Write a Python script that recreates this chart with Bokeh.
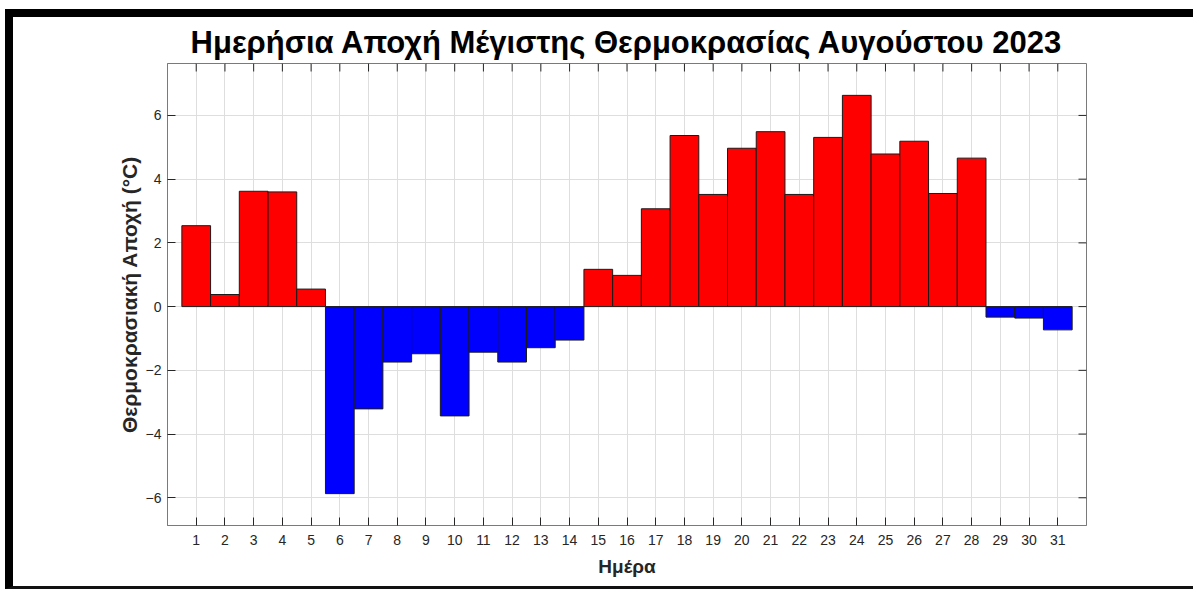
import math
from bokeh.plotting import figure
from bokeh.models import Range1d, FixedTicker, ColumnDataSource
from bokeh.embed import file_html
from bokeh.resources import INLINE

days = list(range(1, 32))
anomaly = [2.54, 0.38, 3.62, 3.60, 0.55, -5.87, -3.21, -1.74, -1.48, -3.43,
           -1.43, -1.74, -1.29, -1.05, 1.17, 0.98, 3.07, 5.37, 3.52, 4.97,
           5.49, 3.52, 5.31, 6.63, 4.79, 5.19, 3.55, 4.66, -0.33, -0.36, -0.73]
y_ticks = [-6, -4, -2, 0, 2, 4, 6]
title_text = "Ημερήσια Αποχή Μέγιστης Θερμοκρασίας Αυγούστου 2023"
xlabel = "Ημέρα"
ylabel = "Θερμοκρασιακή Αποχή (°C)"

colors = ["#ff0000" if v >= 0 else "#0000ff" for v in anomaly]
src = ColumnDataSource(dict(x=days, top=anomaly, color=colors))

xmin, xmax = 0, 32
ymin = min(anomaly) - 1
ymax = max(anomaly) + 1

FONT = "Liberation Sans"
p = figure(width=1180, height=569, output_backend="svg", toolbar_location=None,
           x_range=Range1d(xmin, xmax), y_range=Range1d(ymin, ymax),
           min_border_left=154, min_border_right=115, min_border_top=46,
           min_border_bottom=72, title=title_text)
p.styles = {"box-sizing": "border-box", "width": "1188px", "height": "580px",
            "border-left": "8px solid black", "border-top": "8px solid black",
            "border-bottom": "3px solid #111111", "margin-left": "5px",
            "margin-top": "9px"}
p.title.align = "center"
p.title.text_font = FONT
p.title.text_font_size = "31px"
p.title.text_font_style = "bold"
p.title.text_color = "black"
p.title.standoff = 8

p.vbar(x="x", top="top", bottom=0, width=1.0, fill_color="color",
       line_color="#1a1a1a", line_width=1, source=src)

# mirrored inward ticks on top and right (half of each dash is clipped by the frame)
p.scatter(x=days, y=[ymax] * len(days), marker="dash", size=16, angle=math.pi / 2,
          line_color="#262626", line_width=1)
p.scatter(x=[xmax] * len(y_ticks), y=y_ticks, marker="dash", size=16,
          line_color="#262626", line_width=1)

p.outline_line_color = "#7a7a7a"
p.outline_line_width = 1
p.background_fill_color = "white"
p.border_fill_color = "white"

p.xgrid.ticker = FixedTicker(ticks=days)
p.ygrid.ticker = FixedTicker(ticks=y_ticks)
for g in (p.xgrid, p.ygrid):
    g.grid_line_color = "#dedede"
    g.grid_line_width = 1

def style_axis(ax):
    ax.axis_line_color = "#7a7a7a"
    ax.major_tick_line_color = "#262626"
    ax.major_tick_in = 8
    ax.major_tick_out = 0
    ax.minor_tick_line_color = None
    ax.major_label_text_font = FONT
    ax.major_label_text_font_size = "14px"
    ax.major_label_text_color = "#262626"
    ax.axis_label_text_font = FONT
    ax.axis_label_text_font_style = "bold"
    ax.axis_label_text_color = "#262626"

xa = p.xaxis[0]
xa.ticker = FixedTicker(ticks=days)
style_axis(xa)
xa.major_label_standoff = 9
xa.axis_label = xlabel
xa.axis_label_text_font_size = "19px"
xa.axis_label_standoff = 8

ya = p.yaxis[0]
ya.ticker = FixedTicker(ticks=y_ticks)
style_axis(ya)
ya.major_label_standoff = 6
ya.axis_label = ylabel
ya.axis_label_text_font_size = "21px"
ya.axis_label_standoff = 2

open("out.html", "w").write(file_html(p, INLINE))
